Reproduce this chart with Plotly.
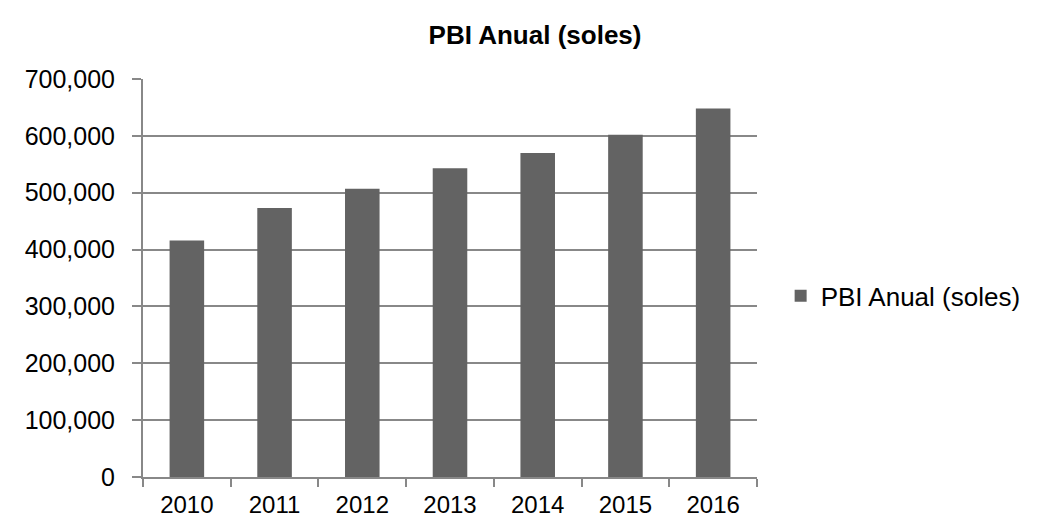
import plotly.graph_objects as go

years = ["2010", "2011", "2012", "2013", "2014", "2015", "2016"]
pbi = [416000, 473000, 507000, 543000, 570000, 602000, 648000]
y_ticks = [0, 100000, 200000, 300000, 400000, 500000, 600000, 700000]
series_name = "PBI Anual (soles)"
title_text = "PBI Anual (soles)"

FONT = "Arial, Liberation Sans, sans-serif"
GRID = "#888888"

fig = go.Figure()
fig.add_trace(go.Bar(
    x=years, y=pbi, name=series_name,
    marker=dict(color="#636363", line=dict(width=0)),
    showlegend=True,
))

fig.update_layout(
    width=1052, height=522,
    margin=dict(l=143, r=294.5, t=79, b=45.3, autoexpand=False),
    paper_bgcolor="white", plot_bgcolor="white",
    font=dict(family=FONT, size=25, color="black"),
    bargap=0.606,
    title=dict(text="<b>" + title_text + "</b>", x=0.5086, xref="container",
               xanchor="center", y=1 - 35 / 522, yanchor="middle",
               font=dict(family=FONT, size=26, color="black")),
    showlegend=True,
    legend=dict(x=1.0385, xanchor="left", y=0.455, yanchor="middle",
                font=dict(family=FONT, size=26, color="black"),
                bgcolor="rgba(0,0,0,0)", itemwidth=30),
    xaxis=dict(
        type="category", range=[-0.5, 6.5],
        showline=True, linecolor=GRID, linewidth=2,
        ticks="outside", ticklen=8, tickwidth=2, tickcolor=GRID,
        tickson="boundaries", showgrid=False,
        tickfont=dict(family=FONT, size=24, color="black"),
        ticklabelstandoff=5,
    ),
    yaxis=dict(
        range=[0, 700000], tickvals=y_ticks, tickformat=",",
        showline=True, linecolor=GRID, linewidth=2,
        ticks="outside", ticklen=9, tickwidth=2, tickcolor=GRID,
        showgrid=True, gridcolor=GRID, gridwidth=2,
        zeroline=False, ticklabelstandoff=12,
    ),
)

fig.write_html("out.html")
